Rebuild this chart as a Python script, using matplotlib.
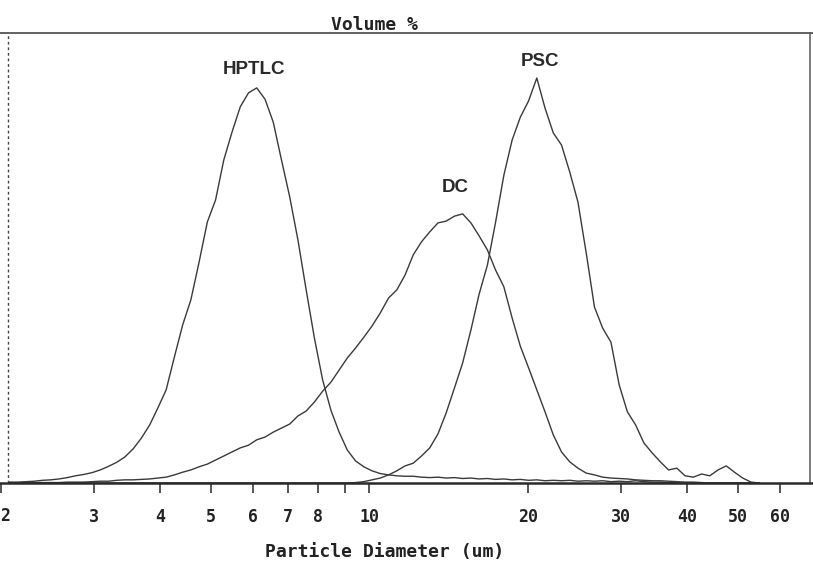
import matplotlib.pyplot as plt
from matplotlib.lines import Line2D
import numpy as np

# 粒徑通道：每十倍程 64 個通道
channel_per_decade = 64
n_channel = 92
diameter = 2.04 * 10 ** ((np.arange(n_channel) + 0.5) / channel_per_decade)

# 各樣品的體積百分比
hptlc = [0.02, 0.02, 0.03, 0.04, 0.06, 0.07, 0.09, 0.12, 0.16, 0.19,
         0.23, 0.29, 0.37, 0.46, 0.58, 0.76, 1.00, 1.29, 1.67, 2.07,
         2.80, 3.51, 4.07, 4.91, 5.80, 6.29, 7.18, 7.80, 8.36, 8.67,
         8.78, 8.53, 8.02, 7.18, 6.36, 5.40, 4.29, 3.22, 2.29, 1.62,
         1.13, 0.73, 0.49, 0.36, 0.27, 0.21, 0.18, 0.16, 0.15, 0.15,
         0.13, 0.12, 0.13, 0.11, 0.12, 0.10, 0.11, 0.09, 0.10, 0.08,
         0.09, 0.07, 0.08, 0.06, 0.07, 0.05, 0.06, 0.05, 0.06, 0.04,
         0.05, 0.04, 0.05, 0.03, 0.04, 0.03, 0.05, 0.03, 0.02, 0.02,
         0.01, 0, 0, 0, 0, 0, 0, 0, 0, 0,
         0, 0]

dc = [0, 0, 0, 0.01, 0.01, 0.01, 0.01, 0.02, 0.02, 0.02,
      0.03, 0.04, 0.04, 0.06, 0.07, 0.07, 0.08, 0.09, 0.11, 0.13,
      0.18, 0.24, 0.29, 0.36, 0.42, 0.51, 0.60, 0.69, 0.78, 0.84,
      0.96, 1.02, 1.13, 1.22, 1.31, 1.49, 1.60, 1.80, 2.04, 2.24,
      2.51, 2.78, 3.00, 3.24, 3.49, 3.78, 4.11, 4.29, 4.62, 5.07,
      5.36, 5.58, 5.78, 5.82, 5.93, 5.98, 5.78, 5.49, 5.18, 4.73,
      4.36, 3.67, 3.04, 2.56, 2.07, 1.58, 1.07, 0.69, 0.47, 0.33,
      0.22, 0.18, 0.13, 0.11, 0.10, 0.09, 0.07, 0.06, 0.05, 0.05,
      0.04, 0.03, 0.02, 0.02, 0.01, 0, 0, 0, 0, 0,
      0, 0]

psc = [0] * 42 + [0.01, 0.03, 0.07, 0.11, 0.18, 0.27, 0.38, 0.44,
       0.60, 0.78, 1.09, 1.56, 2.11, 2.67, 3.40, 4.20, 4.84, 5.80,
       6.84, 7.62, 8.13, 8.49, 9.00, 8.33, 7.78, 7.51, 6.91, 6.24,
       5.11, 3.91, 3.44, 3.13, 2.18, 1.58, 1.29, 0.89, 0.67, 0.47,
       0.29, 0.33, 0.16, 0.13, 0.20, 0.16, 0.29, 0.38, 0.24, 0.11,
       0.02, 0]

tick_values = [2, 3, 4, 5, 6, 7, 8, 9, 10, 20, 30, 40, 50, 60]
# "2" 在左邊界上，另外用文字放，避免被切掉
tick_labels = ['', '3', '4', '5', '6', '7', '8', '', '10', '20', '30', '40', '50', '60']

line_color = '#3a3a3a'
mono = 'DejaVu Sans Mono'

fig = plt.figure(figsize=(8.13, 5.64), dpi=100)
ax = fig.add_axes([1 / 813, 81 / 564, 809 / 813, 450 / 564])

for values in (hptlc, dc, psc):
    ax.plot(diameter, values, color=line_color, lw=1.0)

ax.set_xscale('log')
ax.set_xlim(2, 68.5)
ax.set_ylim(0, 10)

ax.set_xticks(tick_values)
ax.set_xticklabels(tick_labels)
ax.minorticks_off()
ax.set_yticks([])
ax.tick_params(axis='x', direction='out', length=7, width=1.2, color=line_color, pad=11)
for lab in ax.get_xticklabels():
    lab.set_fontfamily(mono)
    lab.set_fontweight('bold')
    lab.set_fontsize(12)
    lab.set_color('#222222')
fig.text(0.5 / 813, 1 - 516 / 564, '2', ha='left', va='center',
         family=mono, fontweight='bold', fontsize=12, color='#222222')

# 邊框：左側為虛線
ax.axvline(2.062, color='#444444', lw=1.0, ls=(0, (2, 2)))
ax.spines['left'].set_visible(False)
ax.spines['right'].set_color('#666666')
ax.spines['right'].set_linewidth(1.2)
ax.spines['top'].set_visible(False)
ax.spines['bottom'].set_visible(False)
fig.add_artist(Line2D([0, 1], [1 - 33 / 564] * 2, color='#555555', lw=1.3))
fig.add_artist(Line2D([0, 1], [81 / 564] * 2, color='#2a2a2a', lw=1.8))

# 曲線名稱
ax.text(6.04, 9.18, 'HPTLC', ha='center', va='center', fontsize=13.5,
        family='Liberation Sans', fontweight='bold', color='#2a2a2a')
ax.text(21.08, 9.36, 'PSC', ha='center', va='center', fontsize=13.5,
        family='Liberation Sans', fontweight='bold', color='#2a2a2a')
ax.text(14.54, 6.56, 'DC', ha='center', va='center', fontsize=13.5,
        family='Liberation Sans', fontweight='bold', color='#2a2a2a')

fig.text(374 / 813, 1 - 25 / 564, 'Volume %', ha='center', va='center',
         family=mono, fontweight='bold', fontsize=13, color='#222222')
fig.text(385 / 813, 1 - 552 / 564, 'Particle Diameter (um)', ha='center', va='center',
         family=mono, fontweight='bold', fontsize=13, color='#222222')

fig.savefig('out.png', dpi=100)
